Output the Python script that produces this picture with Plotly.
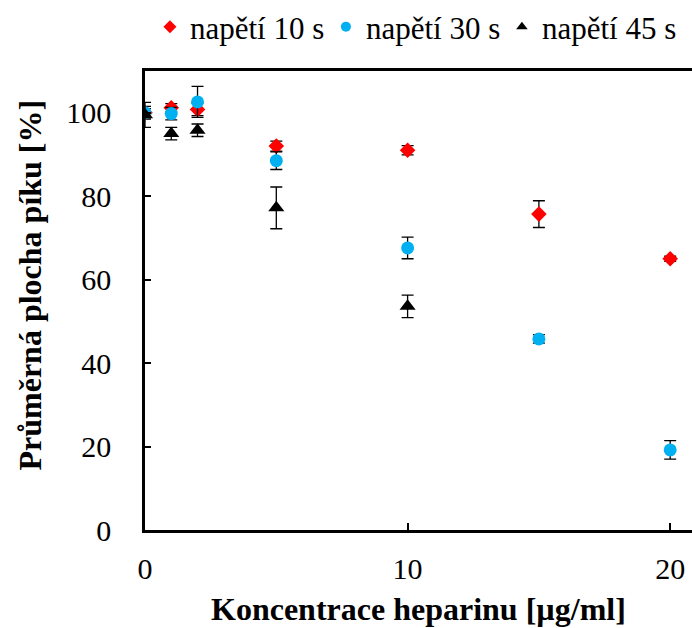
import plotly.graph_objects as go

# Heparin concentration [µg/ml]
conc = [0, 1, 2, 5, 10, 15, 20]

# Mean relative peak area [%] and standard deviations per voltage time
area_10s = [100.0, 101.2, 100.8, 92.0, 91.0, 75.7, 65.0]
err_10s = [1.5, 1.0, 1.5, 1.2, 1.1, 3.2, 0.6]

area_30s = [100.0, 99.8, 102.6, 88.5, 67.6, 45.8, 19.2]
err_30s = [1.0, 1.5, 3.7, 2.1, 2.6, 1.0, 2.2]

area_45s = [99.5, 95.0, 95.8, 77.2, 53.6]
err_45s = [3.0, 1.5, 1.5, 5.0, 2.7]
conc_45s = [0, 1, 2, 5, 10]

series = [
    ("napětí 10 s", conc, area_10s, err_10s, "diamond", "#ff0000", 12),
    ("napětí 30 s", conc, area_30s, err_30s, "circle", "#00b0f0", 13),
    ("napětí 45 s", conc_45s, area_45s, err_45s, "triangle-up", "#000000", 14),
]

FONT = "Liberation Serif"

fig = go.Figure()
for name, xs, ys, es, sym, col, size in series:
    fig.add_trace(go.Scatter(
        x=xs, y=ys, mode="markers", name=name, showlegend=False,
        marker=dict(symbol=sym, color=col, size=size, line=dict(width=0)),
        error_y=dict(type="data", array=es, visible=True, color="black",
                     thickness=1.3, width=6),
    ))
# legend entries with smaller symbols
for name, xs, ys, es, sym, col, size in series:
    fig.add_trace(go.Scatter(
        x=[None], y=[None], mode="markers", name=name,
        marker=dict(symbol=sym, color=col, size=10, line=dict(width=0)),
    ))

fig.update_layout(
    width=692, height=628,
    margin=dict(l=145, r=0, t=71, b=98),
    paper_bgcolor="white", plot_bgcolor="white",
    font=dict(family=FONT, size=30, color="black"),
    showlegend=True,
    legend=dict(orientation="h", x=0.009, xanchor="left", y=1.0, yanchor="top",
                yref="container", font=dict(family=FONT, size=31, color="black"),
                entrywidth=131, entrywidthmode="pixels",
                itemclick=False, tracegroupgap=0),
    xaxis=dict(
        range=[0, 20.83], tickvals=[0, 10, 20], ticks="inside", ticklen=7,
        tickwidth=1.5, tickcolor="black", showline=True, linecolor="black",
        linewidth=2.5, mirror=True, showgrid=False, zeroline=False,
        ticklabelstandoff=10,
        tickfont=dict(family=FONT, size=30, color="black"),
    ),
    yaxis=dict(
        range=[0, 110], tickvals=[0, 20, 40, 60, 80, 100], ticks="inside",
        ticklen=6, tickwidth=1.5, tickcolor="black", showline=True,
        linecolor="black", linewidth=2.5, showgrid=False, zeroline=False,
        ticklabelstandoff=25,
        tickfont=dict(family=FONT, size=30, color="black"),
    ),
)

# axis titles
title_font = dict(family=FONT, size=32, color="black")
fig.add_annotation(text="<b>Koncentrace heparinu [µg/ml]</b>", xref="paper", yref="paper",
                   x=0.5, y=0, xanchor="center", yanchor="middle", yshift=-79,
                   showarrow=False, font=title_font)
fig.add_annotation(text="<b>Průměrná plocha píku [%]</b>", xref="paper", yref="paper",
                   x=0, y=0.5, xanchor="center", yanchor="middle", xshift=-116, yshift=15,
                   textangle=-90, showarrow=False, font=title_font)

fig.write_html("out.html")
